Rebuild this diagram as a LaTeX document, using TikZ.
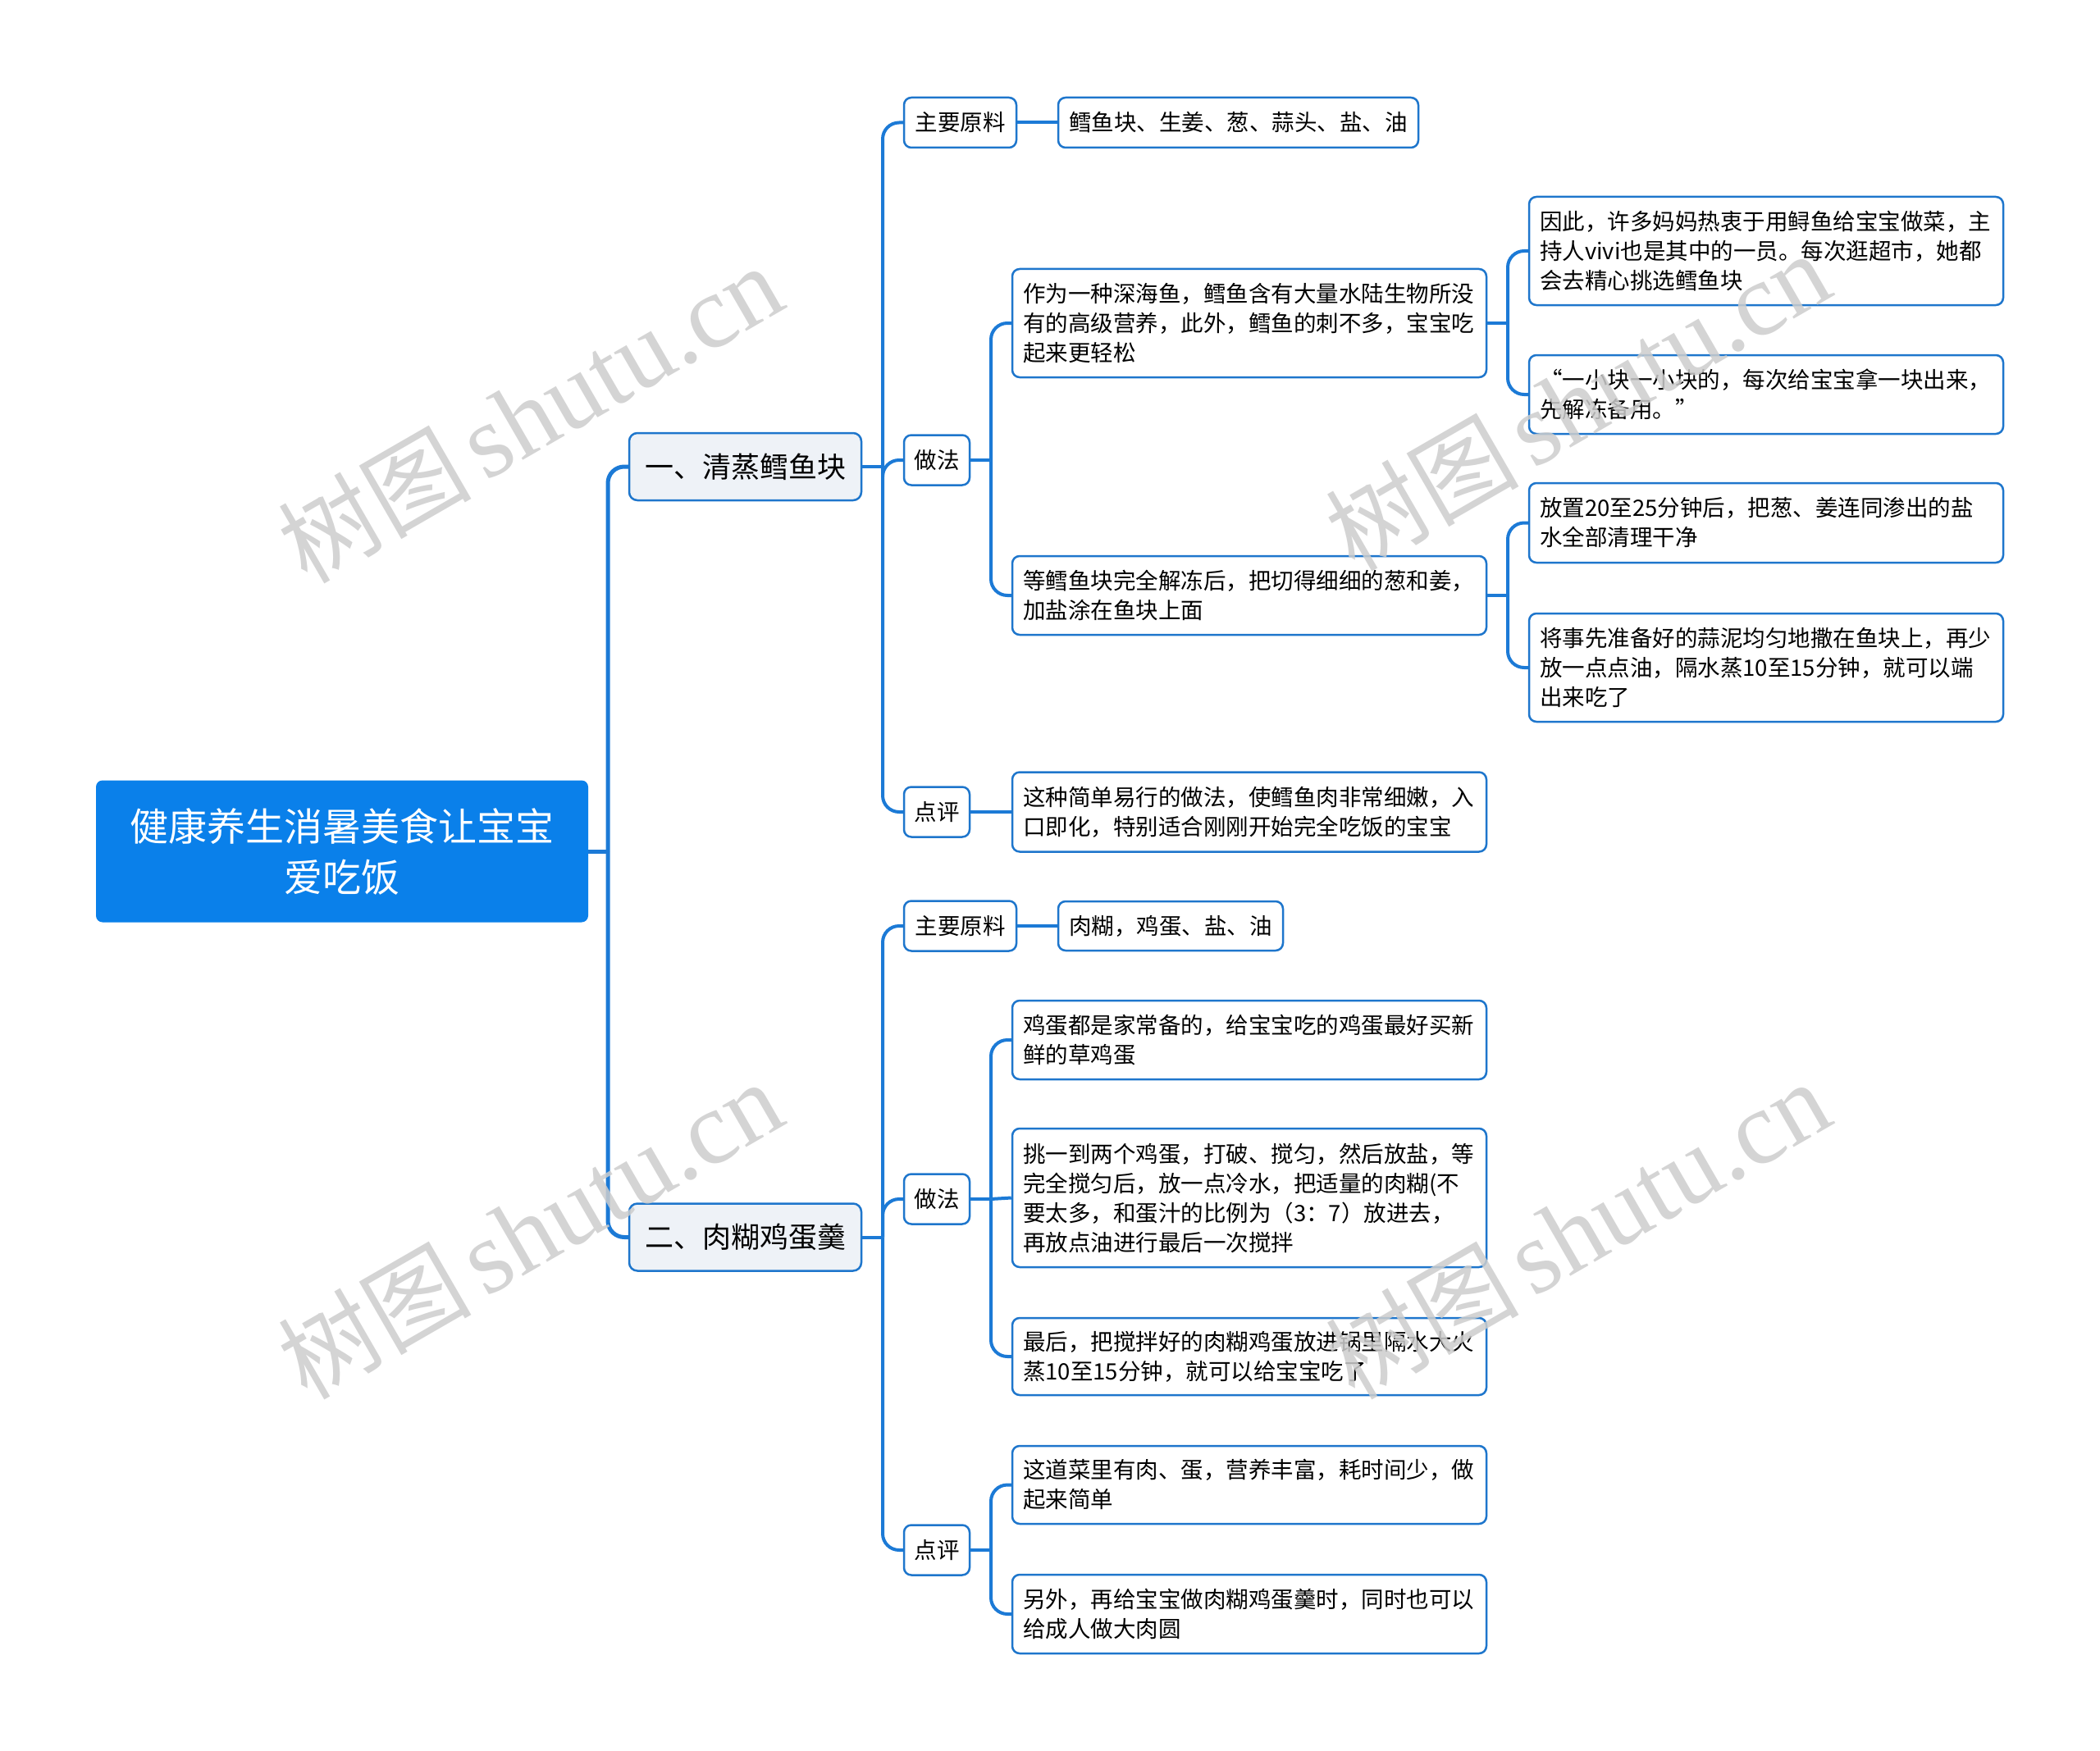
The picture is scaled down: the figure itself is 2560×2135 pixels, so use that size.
\documentclass[tikz,border=0pt]{standalone}
\usepackage{fontspec}
\setmainfont{Noto Sans CJK SC}
\newfontfamily\wmlatin{Liberation Serif}
\newfontfamily\wmcjk{Noto Sans CJK SC}
\definecolor{rootc}{RGB}{10,128,234}
\definecolor{linec}{RGB}{28,122,214}
\definecolor{bordc}{RGB}{30,118,204}
\definecolor{lonec}{RGB}{238,242,247}
\definecolor{wmc}{RGB}{205,205,205}
\newcommand{\wmtext}{{\wmcjk\fontsize{118}{118}\selectfont 树图}\hspace{16pt}{\wmlatin\fontsize{127}{127}\selectfont shutu.cn}}
\begin{document}
\begin{tikzpicture}[x=1pt,y=-1pt,
  base/.style={draw=bordc, line width=2.5pt, rounded corners=9pt, fill=white, inner sep=0pt, text=black},
  rootbox/.style={fill=rootc, draw=none, rounded corners=8pt, text=white, align=center, inner sep=0pt,
     font=\fontsize{47}{62}\selectfont, minimum width=600pt, minimum height=173pt},
  lone/.style={base, fill=lonec, rounded corners=10pt, font=\fontsize{35}{42}\selectfont, minimum width=283pt, minimum height=82pt},
  ltwo/.style={base, font=\fontsize{27.5}{36}\selectfont, minimum height=61pt},
  lthree/.style={base, font=\fontsize{27.5}{36}\selectfont, text width=552pt, align=left, inner xsep=13pt},
  conn/.style={draw=linec, line width=4pt, rounded corners=20pt},
  stem/.style={draw=linec, line width=4pt},
  wm/.style={text=wmc, opacity=0.85, rotate=30, inner sep=0pt}
]
\fill[white] (0,0) rectangle (2560,2135);
\useasboundingbox (0,0) rectangle (2560,2135);

% root
\node[rootbox] (root) at (417,1038) {健康养生消暑美食让宝宝\\爱吃饭};

% level 1
\node[lone] (s1) at (908.5,569) {一、清蒸鳕鱼块};
\node[lone] (s2) at (908.5,1508.5) {二、肉糊鸡蛋羹};

% level 2 - branch 1
\node[ltwo, minimum width=137pt] (m1) at (1170.5,149.5) {主要原料};
\node[ltwo, minimum width=80pt] (z1) at (1142,561) {做法};
\node[ltwo, minimum width=80pt] (p1) at (1142,990) {点评};
% level 2 - branch 2
\node[ltwo, minimum width=137pt] (m2) at (1170.5,1129) {主要原料};
\node[ltwo, minimum width=80pt] (z2) at (1142,1462) {做法};
\node[ltwo, minimum width=80pt] (p2) at (1142,1890) {点评};

% level 3 - branch 1
\node[ltwo, minimum width=439pt] (m1c) at (1509.5,149.5) {鳕鱼块、生姜、葱、蒜头、盐、油};
\node[lthree, minimum height=132pt] (a) at (1523,394) {作为一种深海鱼，鳕鱼含有大量水陆生物所没\\有的高级营养，此外，鳕鱼的刺不多，宝宝吃\\起来更轻松};
\node[lthree, minimum height=96pt] (b) at (1523,726) {等鳕鱼块完全解冻后，把切得细细的葱和姜，\\加盐涂在鱼块上面};
\node[lthree, minimum height=97pt] (c) at (1523,990) {这种简单易行的做法，使鳕鱼肉非常细嫩，入\\口即化，特别适合刚刚开始完全吃饭的宝宝};

% level 4
\node[lthree, minimum height=132pt] (a1) at (2153,306) {因此，许多妈妈热衷于用鲟鱼给宝宝做菜，主\\持人vivi也是其中的一员。每次逛超市，她都\\会去精心挑选鳕鱼块};
\node[lthree, minimum height=96pt] (a2) at (2153,481) {“一小块一小块的，每次给宝宝拿一块出来，\\先解冻备用。”};
\node[lthree, minimum height=97pt] (b1) at (2153,637.5) {放置20至25分钟后，把葱、姜连同渗出的盐\\水全部清理干净};
\node[lthree, minimum height=132pt] (b2) at (2153,814) {将事先准备好的蒜泥均匀地撒在鱼块上，再少\\放一点点油，隔水蒸10至15分钟，就可以端\\出来吃了};

% level 3 - branch 2
\node[ltwo, minimum width=274pt, minimum height=60pt] (m2c) at (1427,1129) {肉糊，鸡蛋、盐、油};
\node[lthree, minimum height=96pt] (d1) at (1523,1268) {鸡蛋都是家常备的，给宝宝吃的鸡蛋最好买新\\鲜的草鸡蛋};
\node[lthree, minimum height=169pt] (d2) at (1523,1460.5) {挑一到两个鸡蛋，打破、搅匀，然后放盐，等\\完全搅匀后，放一点冷水，把适量的肉糊(不\\要太多，和蛋汁的比例为（3：7）放进去，\\再放点油进行最后一次搅拌};
\node[lthree, minimum height=94pt] (d3) at (1523,1654) {最后，把搅拌好的肉糊鸡蛋放进锅里隔水大火\\蒸10至15分钟，就可以给宝宝吃了};
\node[lthree, minimum height=95pt] (e1) at (1523,1810.5) {这道菜里有肉、蛋，营养丰富，耗时间少，做\\起来简单};
\node[lthree, minimum height=96pt] (e2) at (1523,1968) {另外，再给宝宝做肉糊鸡蛋羹时，同时也可以\\给成人做大肉圆};

% junctions
\coordinate (j0) at (741,1038);
\coordinate (js1) at (1076,569);
\coordinate (js2) at (1076,1508.5);
\coordinate (jz1) at (1208,561);
\coordinate (ja) at (1838,394);
\coordinate (jb) at (1838,726);
\coordinate (jz2) at (1208,1462);
\coordinate (jp2) at (1208,1890);

% connectors
\draw[stem, line width=5pt] (root.east) -- (j0);
\draw[conn, line width=5pt] (j0) |- (s1.west);
\draw[conn, line width=5pt] (j0) |- (s2.west);

\draw[stem] (s1.east) -- (js1);
\draw[conn] (js1) |- (m1.west);
\draw[conn] (js1) |- (z1.west);
\draw[conn] (js1) |- (p1.west);
\draw[stem] (m1.east) -- (m1c.west);
\draw[stem] (z1.east) -- (jz1);
\draw[conn] (jz1) |- (a.west);
\draw[conn] (jz1) |- (b.west);
\draw[stem] (p1.east) -- (c.west);
\draw[stem] (a.east) -- (ja);
\draw[conn] (ja) |- (a1.west);
\draw[conn] (ja) |- (a2.west);
\draw[stem] (b.east) -- (jb);
\draw[conn] (jb) |- (b1.west);
\draw[conn] (jb) |- (b2.west);

\draw[stem] (s2.east) -- (js2);
\draw[conn] (js2) |- (m2.west);
\draw[conn] (js2) |- (z2.west);
\draw[conn] (js2) |- (p2.west);
\draw[stem] (m2.east) -- (m2c.west);
\draw[stem] (z2.east) -- (jz2);
\draw[conn] (jz2) |- (d1.west);
\draw[stem] (jz2) -- (d2.west);
\draw[conn] (jz2) |- (d3.west);
\draw[stem] (p2.east) -- (jp2);
\draw[conn] (jp2) |- (e1.west);
\draw[conn] (jp2) |- (e2.west);

% watermarks
\node[wm] (wm1) at (646,505) {\wmtext};
\node[wm] (wm2) at (646,1500) {\wmtext};
\node[wm] (wm3) at (1923,490) {\wmtext};
\node[wm] (wm4) at (1923,1500) {\wmtext};
\end{tikzpicture}
\end{document}
